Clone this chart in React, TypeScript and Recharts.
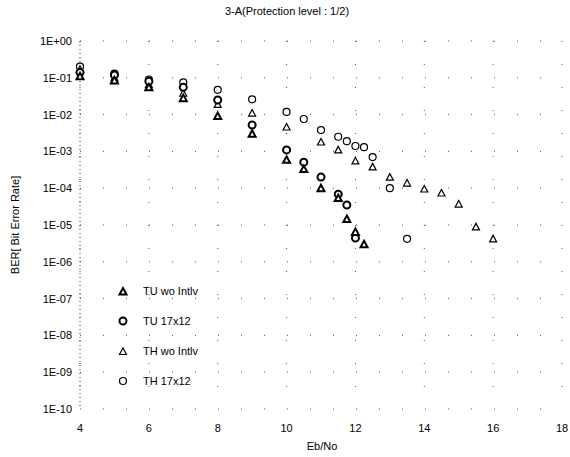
import React from 'react';
import { ScatterChart, Scatter, XAxis, YAxis, CartesianGrid } from 'recharts';

const xTicks = [4, 6, 8, 10, 12, 14, 16, 18];
const yTicks = [1, 1e-1, 1e-2, 1e-3, 1e-4, 1e-5, 1e-6, 1e-7, 1e-8, 1e-9, 1e-10];

const tuWoX = [4, 5, 6, 7, 8, 9, 10, 10.5, 11, 11.5, 11.75, 12, 12.25];
const tuWoY = [0.11, 0.085, 0.055, 0.028, 0.0091, 0.003, 0.00059, 0.00033, 0.0001, 0.000054, 0.0000145, 0.0000065, 0.000003];

const tu17X = [4, 5, 6, 7, 8, 9, 10, 10.5, 11, 11.5, 11.75, 12];
const tu17Y = [0.14, 0.12, 0.08, 0.055, 0.025, 0.0052, 0.0011, 0.00051, 0.0002, 0.000069, 0.000035, 0.0000044];

const thWoX = [4, 5, 6, 7, 8, 9, 10, 11, 11.5, 12, 12.5, 13, 13.5, 14, 14.5, 15, 15.5, 16];
const thWoY = [0.17, 0.1, 0.065, 0.038, 0.019, 0.011, 0.0046, 0.0018, 0.0011, 0.00055, 0.00038, 0.0002, 0.000138, 0.000095, 0.000074, 0.000037, 0.0000089, 0.0000042];

const th17X = [4, 5, 6, 7, 8, 9, 10, 10.5, 11, 11.5, 11.75, 12, 12.25, 12.5, 13, 13.5];
const th17Y = [0.2, 0.13, 0.09, 0.075, 0.047, 0.026, 0.0118, 0.0076, 0.0038, 0.0025, 0.0019, 0.0014, 0.0013, 0.0007, 0.0001, 0.0000042];

const zip = (xs: number[], ys: number[]) => xs.map((x, i) => ({ x, y: ys[i] }));

const fmtExp = (v: number) => {
  const e = Math.round(Math.log10(v));
  return '1E' + (e >= 0 ? '+' : '-') + String(Math.abs(e)).padStart(2, '0');
};

const triPath = (cx: number, cy: number) =>
  `M${cx},${cy - 3.5} L${cx + 3.5},${cy + 3} L${cx - 3.5},${cy + 3} Z`;

const triangle = (bold: boolean) => (props: any) => {
  const { cx, cy } = props;
  if (cx == null || cy == null) return <g />;
  return <path d={triPath(cx, cy)} fill="#fff" stroke="#000" strokeWidth={bold ? 2 : 1.2} />;
};

const circle = (bold: boolean) => (props: any) => {
  const { cx, cy } = props;
  if (cx == null || cy == null) return <g />;
  return <circle cx={cx} cy={cy} r={3.5} fill="#fff" stroke="#000" strokeWidth={bold ? 2 : 1.2} />;
};

const legendItems = [
  { name: 'TU wo Intlv', tri: true, bold: true },
  { name: 'TU 17x12', tri: false, bold: true },
  { name: 'TH wo Intlv', tri: true, bold: false },
  { name: 'TH 17x12', tri: false, bold: false },
];

const font = 'Arial, "Liberation Sans", sans-serif';

const App: React.FC = () => {
  return (
    <div style={{ position: 'absolute', left: 0, top: 0, width: 570, height: 457, background: '#fff', fontFamily: font }}>
      <ScatterChart width={570} height={457} margin={{ top: 41, right: 8, bottom: 20, left: 0 }}>
        <CartesianGrid stroke="#555" strokeDasharray="1 22" />
        <XAxis
          dataKey="x"
          type="number"
          domain={[4, 18]}
          ticks={xTicks}
          tickLine={false}
          axisLine={false}
          tickMargin={9}
          height={28}
          tick={{ fill: '#000', fontSize: 11, fontFamily: font }}
        />
        <YAxis
          dataKey="y"
          type="number"
          scale="log"
          domain={[1e-10, 1]}
          allowDataOverflow
          ticks={yTicks}
          tickFormatter={fmtExp}
          tickLine={false}
          axisLine={{ stroke: '#333', strokeDasharray: '1 3' }}
          width={80}
          tick={{ fill: '#000', fontSize: 11, fontFamily: font }}
        />
        <Scatter data={zip(th17X, th17Y)} shape={circle(false)} isAnimationActive={false} />
        <Scatter data={zip(thWoX, thWoY)} shape={triangle(false)} isAnimationActive={false} />
        <Scatter data={zip(tu17X, tu17Y)} shape={circle(true)} isAnimationActive={false} />
        <Scatter data={zip(tuWoX, tuWoY)} shape={triangle(true)} isAnimationActive={false} />
      </ScatterChart>
      <div style={{ position: 'absolute', left: 0, width: 574, top: 5, textAlign: 'center', fontSize: 11 }}>
        3-A(Protection level : 1/2)
      </div>
      <div style={{ position: 'absolute', left: 0, width: 644, top: 440, textAlign: 'center', fontSize: 11 }}>
        Eb/No
      </div>
      <div
        style={{
          position: 'absolute',
          left: 15,
          top: 225,
          transform: 'translate(-50%, -50%) rotate(-90deg)',
          whiteSpace: 'nowrap',
          fontSize: 11,
        }}
      >
        BER[ Bit Error Rate]
      </div>
      {legendItems.map((it, i) => (
        <div key={it.name} style={{ position: 'absolute', left: 117, top: 285 + i * 30, display: 'flex', alignItems: 'center', fontSize: 11 }}>
          <svg width={12} height={12} style={{ marginRight: 14 }}>
            {it.tri ? (
              <path d={triPath(6, 6.5)} fill="#fff" stroke="#000" strokeWidth={it.bold ? 2 : 1.2} />
            ) : (
              <circle cx={6} cy={6} r={3.5} fill="#fff" stroke="#000" strokeWidth={it.bold ? 2 : 1.2} />
            )}
          </svg>
          <span>{it.name}</span>
        </div>
      ))}
    </div>
  );
};

export default App;
